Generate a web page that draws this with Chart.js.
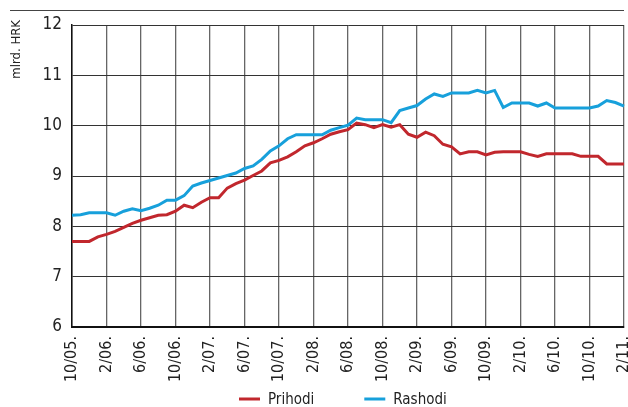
<!DOCTYPE html>
<html>
<head>
<meta charset="utf-8">
<script src="https://cdn.jsdelivr.net/npm/chart.js@4.4.0/dist/chart.umd.min.js"></script>
<style>
  html, body { margin: 0; padding: 0; background: #fff; }
  #wrap { width: 628px; height: 407px; }
</style>
</head>
<body>
<div id="wrap"><canvas id="budget-chart"></canvas></div>
<script>
const FONT = "'DejaVu Sans Condensed', 'Liberation Sans', sans-serif";

const months = [
    "10/05.", "11/05.", "12/05.",
    "1/06.", "2/06.", "3/06.", "4/06.", "5/06.", "6/06.", "7/06.", "8/06.", "9/06.", "10/06.", "11/06.", "12/06.",
    "1/07.", "2/07.", "3/07.", "4/07.", "5/07.", "6/07.", "7/07.", "8/07.", "9/07.", "10/07.", "11/07.", "12/07.",
    "1/08.", "2/08.", "3/08.", "4/08.", "5/08.", "6/08.", "7/08.", "8/08.", "9/08.", "10/08.", "11/08.", "12/08.",
    "1/09.", "2/09.", "3/09.", "4/09.", "5/09.", "6/09.", "7/09.", "8/09.", "9/09.", "10/09.", "11/09.", "12/09.",
    "1/10.", "2/10.", "3/10.", "4/10.", "5/10.", "6/10.", "7/10.", "8/10.", "9/10.", "10/10.", "11/10.", "12/10.",
    "1/11.", "2/11."
];

// mlrd. HRK, monthly
const prihodi = [
    7.70, 7.70, 7.70,
    7.79, 7.84, 7.90, 7.98, 8.06, 8.12, 8.17, 8.22, 8.23, 8.30, 8.42, 8.37,
    8.48, 8.57, 8.57, 8.76, 8.85, 8.92, 9.01, 9.10, 9.26, 9.31, 9.38, 9.48,
    9.60, 9.66, 9.74, 9.83, 9.88, 9.92, 10.05, 10.02, 9.96, 10.02, 9.97, 10.02,
    9.83, 9.77, 9.87, 9.80, 9.63, 9.58, 9.44, 9.48, 9.48, 9.42, 9.47, 9.48,
    9.48, 9.48, 9.43, 9.39, 9.44, 9.44, 9.44, 9.44, 9.39, 9.39, 9.39, 9.24,
    9.24, 9.24
];
const rashodi = [
    8.22, 8.23, 8.27,
    8.27, 8.27, 8.22, 8.30, 8.35, 8.31, 8.36, 8.42, 8.52, 8.52, 8.61, 8.80,
    8.86, 8.91, 8.96, 9.01, 9.06, 9.15, 9.20, 9.33, 9.50, 9.60, 9.74, 9.82,
    9.82, 9.82, 9.82, 9.91, 9.96, 10.01, 10.15, 10.12, 10.12, 10.12, 10.06, 10.30,
    10.35, 10.40, 10.53, 10.63, 10.58, 10.65, 10.65, 10.65, 10.70, 10.65, 10.70, 10.36,
    10.45, 10.45, 10.45, 10.39, 10.45, 10.35, 10.35, 10.35, 10.35, 10.35, 10.39, 10.50,
    10.46, 10.39
];
const seriesNames = ["Prihodi", "Rashodi"];
const seriesColors = ["#c1272d", "#17a0db"];
const unitLabel = "mlrd. HRK";
const labelEvery = 4;

// top rule, unit label and the legend under the axis
const decor = {
    id: 'decor',
    afterDraw(chart) {
        const ctx = chart.ctx;
        const area = chart.chartArea;
        ctx.save();
        ctx.strokeStyle = '#444';
        ctx.lineWidth = 1;
        ctx.beginPath();
        ctx.moveTo(10, 10.5);
        ctx.lineTo(area.right, 10.5);
        ctx.stroke();

        ctx.save();
        ctx.translate(17, 20);
        ctx.rotate(-Math.PI / 2);
        ctx.font = '13px ' + FONT;
        ctx.fillStyle = '#222';
        ctx.textAlign = 'right';
        ctx.textBaseline = 'middle';
        ctx.fillText(unitLabel, 0, 0);
        ctx.restore();

        ctx.font = '15px ' + FONT;
        ctx.textBaseline = 'middle';
        ctx.textAlign = 'left';
        let x = 239;
        const y = 400;
        chart.data.datasets.forEach(ds => {
            ctx.strokeStyle = ds.borderColor;
            ctx.lineWidth = 3;
            ctx.beginPath();
            ctx.moveTo(x, y - 1);
            ctx.lineTo(x + 21, y - 1);
            ctx.stroke();
            ctx.fillStyle = '#222';
            ctx.fillText(ds.label, x + 29, y);
            x += 29 + ctx.measureText(ds.label).width + 50;
        });
        ctx.restore();
    }
};

const ctx = document.getElementById('budget-chart').getContext('2d');
const budgetChart = new Chart(ctx, {
    type: 'line',
    data: {
        labels: months,
        datasets: [
            { label: seriesNames[0], data: prihodi, borderColor: seriesColors[0], backgroundColor: seriesColors[0] },
            { label: seriesNames[1], data: rashodi, borderColor: seriesColors[1], backgroundColor: seriesColors[1] }
        ]
    },
    options: {
        responsive: true,
        maintainAspectRatio: false,
        animation: false,
        layout: { padding: { left: 0, right: 4, top: 25, bottom: 0 } },
        elements: {
            line: { borderWidth: 3, tension: 0 },
            point: { radius: 0 }
        },
        plugins: {
            legend: { display: false },
            tooltip: { enabled: false }
        },
        scales: {
            x: {
                offset: false,
                afterFit: (scale) => {
                    scale.height = 80;
                    scale.paddingLeft = 0;
                    scale.paddingRight = 0;
                },
                border: { color: '#111', width: 2 },
                grid: {
                    drawTicks: false,
                    color: (c) => (c.index % labelEvery === 0 ? '#666' : 'rgba(0,0,0,0)'),
                    lineWidth: 1.3
                },
                ticks: {
                    autoSkip: false,
                    maxRotation: 90,
                    minRotation: 90,
                    padding: 9,
                    color: '#222',
                    font: { family: FONT, size: 16 },
                    callback: function (val, i) { return i % labelEvery === 0 ? months[i] : ''; }
                }
            },
            y: {
                min: 6,
                max: 12,
                afterFit: (scale) => { scale.width = 72; },
                border: { color: '#111', width: 1.5 },
                grid: { drawTicks: false, color: '#333', lineWidth: 1 },
                ticks: {
                    stepSize: 1,
                    padding: 10,
                    color: '#222',
                    font: { family: FONT, size: 17 }
                }
            }
        }
    },
    plugins: [decor]
});
</script>
</body>
</html>
